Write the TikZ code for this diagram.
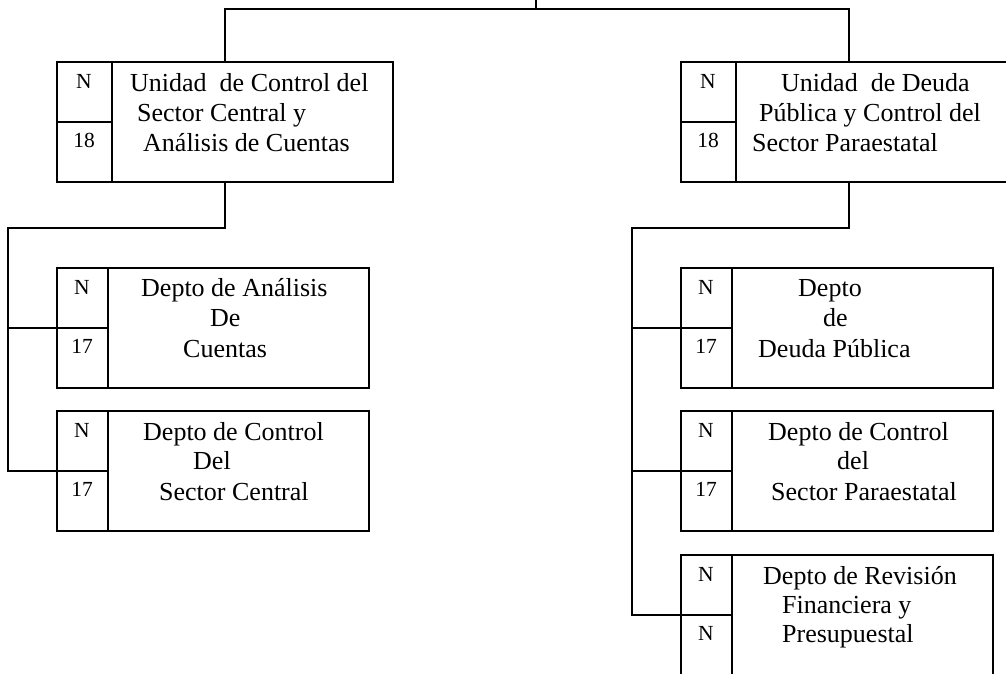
\documentclass[tikz,border=0pt]{standalone}
\usepackage{fontspec}
\setmainfont{Liberation Serif}
\begin{document}
\begin{tikzpicture}[x=1pt,y=-1pt,
  box/.style={draw, line width=1.8pt, anchor=north west, inner sep=0pt, minimum height=120pt},
  unit/.style={box, minimum width=336pt},
  dept/.style={box, minimum width=312pt},
  link/.style={line width=1.8pt},
  lbl/.style={anchor=base west, inner sep=0pt, font=\fontsize{26}{30}\selectfont},
  code/.style={anchor=base, inner sep=0pt, font=\fontsize{21.5}{24}\selectfont}]
\useasboundingbox (0,0) rectangle (1006,673);
\clip (0,0) rectangle (1006,673);

% units
\node[unit] (tl) at (56,61) {};
\node[unit] (tr) at (680,61) {};
\foreach \u in {tl,tr}{
  \draw[link] ([xshift=56pt]\u.north west) -- ([xshift=56pt]\u.south west);
  \draw[link] (\u.west) -- ([xshift=56pt]\u.west);
}

% departments
\node[dept] (l2) at (56,267) {};
\node[dept] (l3) at (56,410) {};
\node[dept] (r1) at (680,267) {};
\node[dept] (r2) at (680,410) {};
\node[dept] (r3) at (680,554) {};
\foreach \d in {l2,l3,r1,r2,r3}{
  \draw[link] ([xshift=52pt]\d.north west) -- ([xshift=52pt]\d.south west);
  \draw[link] (\d.west) -- ([xshift=52pt]\d.west);
}

% level codes
\node[code] (tlN) at (84,88) {N};
\node[code] (tlK) at (84,147) {18};
\node[code] (trN) at (708,88) {N};
\node[code] (trK) at (708,147) {18};
\node[code] (l2N) at (82,294) {N};
\node[code] (l2K) at (82,353) {17};
\node[code] (l3N) at (82,437) {N};
\node[code] (l3K) at (82,496) {17};
\node[code] (r1N) at (706,294) {N};
\node[code] (r1K) at (706,353) {17};
\node[code] (r2N) at (706,437) {N};
\node[code] (r2K) at (706,496) {17};
\node[code] (r3N) at (706,581) {N};
\node[code] (r3K) at (706,640) {N};

% titles
\node[lbl] (tlA) at (130,91) {Unidad\ \ de Control del};
\node[lbl] (tlB) at (137,121) {Sector Central y};
\node[lbl] (tlC) at (143,151) {Análisis de Cuentas};
\node[lbl] (trA) at (781,91) {Unidad\ \ de Deuda};
\node[lbl] (trB) at (759,121) {Pública y Control del};
\node[lbl] (trC) at (752,151) {Sector Paraestatal};
\node[lbl] (l2A) at (141,296) {Depto de Análisis};
\node[lbl] (l2B) at (210,326) {De};
\node[lbl] (l2C) at (183,357) {Cuentas};
\node[lbl] (l3A) at (143,440) {Depto de Control};
\node[lbl] (l3B) at (193,469) {Del};
\node[lbl] (l3C) at (159,500) {Sector Central};
\node[lbl] (r1A) at (798,296) {Depto};
\node[lbl] (r1B) at (823,326) {de};
\node[lbl] (r1C) at (758,357) {Deuda Pública};
\node[lbl] (r2A) at (768,440) {Depto de Control};
\node[lbl] (r2B) at (837,469) {del};
\node[lbl] (r2C) at (771,500) {Sector Paraestatal};
\node[lbl] (r3A) at (763,584) {Depto de Revisión};
\node[lbl] (r3B) at (782,613) {Financiera y};
\node[lbl] (r3C) at (782,642) {Presupuestal};

% connectors
\coordinate (root) at (536,-5);
\coordinate (bar) at (536,9);
\coordinate (lspine) at (8,228);
\coordinate (rspine) at (632,228);
\draw[link] (root) -- (bar);
\draw[link] (tl.north) |- (bar) -| (tr.north);
\draw[link] (tl.south) |- (lspine) |- (l3.west);
\draw[link] (lspine |- l2.west) -- (l2.west);
\draw[link] (tr.south) |- (rspine) |- (r3.west);
\draw[link] (rspine |- r1.west) -- (r1.west);
\draw[link] (rspine |- r2.west) -- (r2.west);
\end{tikzpicture}
\end{document}
